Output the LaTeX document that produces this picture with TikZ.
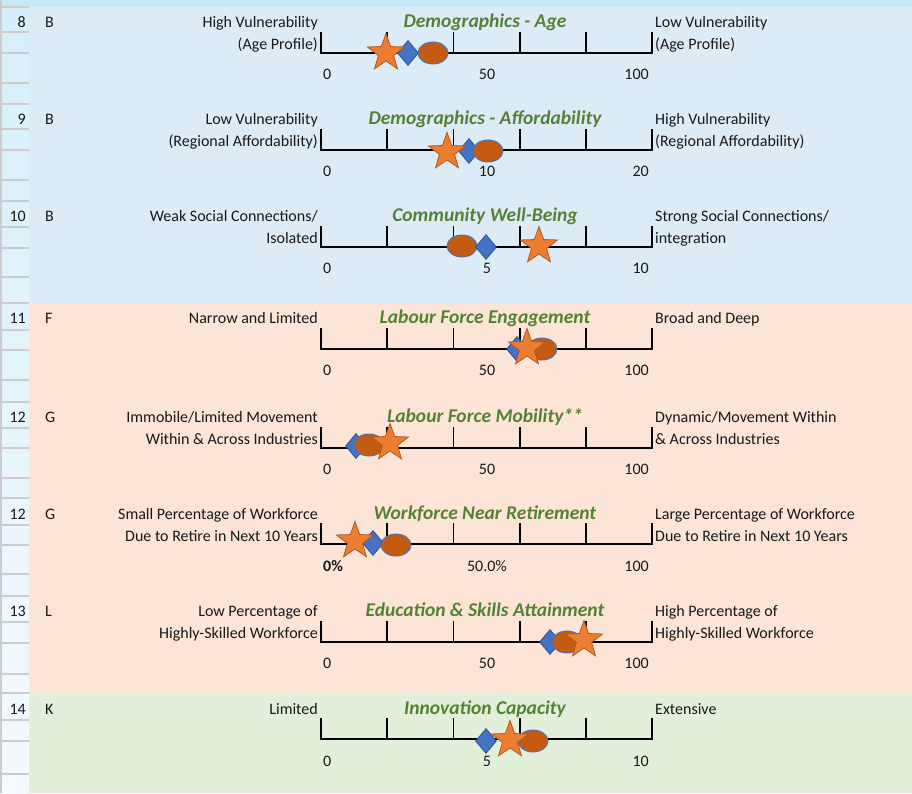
\documentclass[tikz,border=0pt]{standalone}
\usepackage{fontspec}
\setmainfont{Carlito}
\usetikzlibrary{shapes.geometric}
\definecolor{bandblue}{RGB}{221,235,247}
\definecolor{bandpeach}{RGB}{252,228,214}
\definecolor{bandgreen}{RGB}{226,239,218}
\definecolor{hdrtop}{RGB}{214,239,249}
\definecolor{hdrbot}{RGB}{244,250,254}
\definecolor{hdrline}{RGB}{204,204,204}
\definecolor{stripc}{RGB}{199,232,245}
\definecolor{titlegreen}{RGB}{84,130,53}
\definecolor{starfill}{RGB}{237,125,49}
\definecolor{starline}{RGB}{174,90,33}
\definecolor{diafill}{RGB}{68,114,196}
\definecolor{dialine}{RGB}{47,82,143}
\definecolor{ellfill}{RGB}{197,90,17}
\definecolor{ellline}{RGB}{68,114,196}
\definecolor{txt}{RGB}{25,25,25}
\tikzset{
  body/.style={font=\fontsize{16}{19}\selectfont, text=txt, inner sep=0pt},
  leftlbl/.style={body, anchor=base east},
  rightlbl/.style={body, anchor=base west},
  numl/.style={body, anchor=base west},
  numc/.style={body, anchor=base},
  numr/.style={body, anchor=base east},
  rowno/.style={body, anchor=base east},
  rowlet/.style={body, anchor=base west},
  ttl/.style={font=\fontsize{19.5}{23}\selectfont\bfseries\itshape, text=titlegreen, inner sep=0pt, anchor=base},
  axisline/.style={line width=1.8pt, black},
  starmk/.style={star, star points=5, star point ratio=2.45, minimum size=39pt, inner sep=0pt, fill=starfill, draw=starline, line width=0.8pt},
  diamk/.style={diamond, minimum width=21pt, minimum height=25pt, inner sep=0pt, fill=diafill, draw=dialine, line width=0.8pt},
  ellmk/.style={ellipse, minimum width=30pt, minimum height=22pt, inner sep=0pt, fill=ellfill, draw=ellline, line width=0.9pt},
}
\newcommand{\myaxis}[1]{%
  \draw[axisline] (321,{#1+25}) -- (321,{#1+46}) -- (652,{#1+46}) -- (652,{#1+25});
  \foreach \tx in {387.2,453.4,519.6,585.8} {\draw[axisline] (\tx,{#1+25}) -- (\tx,{#1+46});}
}
\begin{document}
\begin{tikzpicture}[x=1pt,y=-1pt]
\useasboundingbox (0,0) rectangle (912,793);
% backgrounds
\fill[stripc] (0,0) rectangle (912,7);
\fill[bandblue] (29,7) rectangle (912,303);
\fill[bandpeach] (29,303) rectangle (912,693);
\fill[bandgreen] (29,693) rectangle (912,793);
\shade[top color=hdrtop, bottom color=hdrbot] (2,7) rectangle (29,793);
\fill[hdrline] (0,0) rectangle (2,793);
\foreach \ly in {7,32,53,83,104,129,150,180,201,227,248,277,303,330,350,380,402,428,448,478,498,525,545,574,596,622,643,674,693,720,741,774} {
  \fill[hdrline] (2,\ly-1) rectangle (29,\ly+1);
}
% ---------- Section 8 (T=7)
\node[rowno] (r8n) at (26,27) {8};
\node[rowlet] (r8l) at (45,27) {B};
\node[leftlbl] (l8a) at (318,27) {High Vulnerability};
\node[leftlbl] (l8b) at (318,49) {(Age Profile)};
\node[ttl] (t8) at (485,27) {Demographics - Age};
\node[rightlbl] (g8a) at (655,27) {Low Vulnerability};
\node[rightlbl] (g8b) at (655,49) {(Age Profile)};
\myaxis{7}
\node[numl] (a8a) at (323,79) {0};
\node[numc] (a8b) at (487,79) {50};
\node[numr] (a8c) at (649,79) {100};
\node[diamk] (d8) at (408,53) {};
\node[ellmk] (e8) at (433,53) {};
\node[starmk] (s8) at (386,53) {};
% ---------- Section 9 (T=104)
\node[rowno] (r9n) at (26,124) {9};
\node[rowlet] (r9l) at (45,124) {B};
\node[leftlbl] (l9a) at (318,124) {Low Vulnerability};
\node[leftlbl] (l9b) at (318,146) {(Regional Affordability)};
\node[ttl] (t9) at (485,124) {Demographics - Affordability};
\node[rightlbl] (g9a) at (655,124) {High Vulnerability};
\node[rightlbl] (g9b) at (655,146) {(Regional Affordability)};
\myaxis{104}
\node[numl] (a9a) at (323,176) {0};
\node[numc] (a9b) at (487,176) {10};
\node[numr] (a9c) at (649,176) {20};
\node[diamk] (d9) at (469,151) {};
\node[ellmk] (e9) at (488,151) {};
\node[starmk] (s9) at (447,152) {};
% ---------- Section 10 (T=201)
\node[rowno] (r10n) at (26,221) {10};
\node[rowlet] (r10l) at (45,221) {B};
\node[leftlbl] (l10a) at (318,221) {Weak Social Connections/};
\node[leftlbl] (l10b) at (318,243) {Isolated};
\node[ttl] (t10) at (485,221) {Community Well-Being};
\node[rightlbl] (g10a) at (655,221) {Strong Social Connections/};
\node[rightlbl] (g10b) at (655,243) {integration};
\myaxis{201}
\node[numl] (a10a) at (323,273) {0};
\node[numc] (a10b) at (487,273) {5};
\node[numr] (a10c) at (649,273) {10};
\node[ellmk] (e10) at (462,246) {};
\node[diamk] (d10) at (486,247) {};
\node[starmk] (s10) at (539,246) {};
% ---------- Section 11 (T=303)
\node[rowno] (r11n) at (26,323) {11};
\node[rowlet] (r11l) at (45,323) {F};
\node[leftlbl] (l11a) at (318,323) {Narrow and Limited};
\node[ttl] (t11) at (485,323) {Labour Force Engagement};
\node[rightlbl] (g11a) at (655,323) {Broad and Deep};
\myaxis{303}
\node[numl] (a11a) at (323,375) {0};
\node[numc] (a11b) at (487,375) {50};
\node[numr] (a11c) at (649,375) {100};
\node[diamk] (d11) at (517,349) {};
\node[ellmk] (e11) at (542,349) {};
\node[starmk] (s11) at (527,348) {};
% ---------- Section 12a (T=402)
\node[rowno] (r12n) at (26,422) {12};
\node[rowlet] (r12l) at (45,422) {G};
\node[leftlbl] (l12a) at (318,422) {Immobile/Limited Movement};
\node[leftlbl] (l12b) at (318,444) {Within \& Across Industries};
\node[ttl] (t12) at (485,422) {Labour Force Mobility**};
\node[rightlbl] (g12a) at (655,422) {Dynamic/Movement Within};
\node[rightlbl] (g12b) at (655,444) {\& Across Industries};
\myaxis{402}
\node[numl] (a12a) at (323,474) {0};
\node[numc] (a12b) at (487,474) {50};
\node[numr] (a12c) at (649,474) {100};
\node[diamk] (d12) at (356,446) {};
\node[ellmk] (e12) at (369,445) {};
\node[starmk] (s12) at (390,443) {};
% ---------- Section 12b (T=498)
\node[rowno] (r13n) at (26,519) {12};
\node[rowlet] (r13l) at (45,519) {G};
\node[leftlbl] (l13a) at (318,519) {Small Percentage of Workforce};
\node[leftlbl] (l13b) at (318,541) {Due to Retire in Next 10 Years};
\node[ttl] (t13) at (485,519) {Workforce Near Retirement};
\node[rightlbl] (g13a) at (655,519) {Large Percentage of Workforce};
\node[rightlbl] (g13b) at (655,541) {Due to Retire in Next 10 Years};
\myaxis{498}
\node[numl,font=\fontsize{16}{19}\selectfont\bfseries] (a13a) at (323,571) {0\%};
\node[numc] (a13b) at (487,571) {50.0\%};
\node[numr] (a13c) at (649,571) {100};
\node[diamk] (d13) at (373,543) {};
\node[ellmk] (e13) at (396,545) {};
\node[starmk] (s13) at (355,541) {};
% ---------- Section 13 (T=596)
\node[rowno] (r14n) at (26,616) {13};
\node[rowlet] (r14l) at (45,616) {L};
\node[leftlbl] (l14a) at (318,616) {Low Percentage of};
\node[leftlbl] (l14b) at (318,638) {Highly-Skilled Workforce};
\node[ttl] (t14) at (485,616) {Education \& Skills Attainment};
\node[rightlbl] (g14a) at (655,616) {High Percentage of};
\node[rightlbl] (g14b) at (655,638) {Highly-Skilled Workforce};
\myaxis{596}
\node[numl] (a14a) at (323,668) {0};
\node[numc] (a14b) at (487,668) {50};
\node[numr] (a14c) at (649,668) {100};
\node[diamk] (d14) at (550,642) {};
\node[ellmk] (e14) at (567,642) {};
\node[starmk] (s14) at (584,640) {};
% ---------- Section 14 (T=693)
\node[rowno] (r15n) at (26,714) {14};
\node[rowlet] (r15l) at (45,714) {K};
\node[leftlbl] (l15a) at (318,714) {Limited};
\node[ttl] (t15) at (485,714) {Innovation Capacity};
\node[rightlbl] (g15a) at (655,714) {Extensive};
\myaxis{693}
\node[numl] (a15a) at (323,766) {0};
\node[numc] (a15b) at (487,766) {5};
\node[numr] (a15c) at (649,766) {10};
\node[diamk] (d15) at (486,741) {};
\node[ellmk] (e15) at (533,741) {};
\node[starmk] (s15) at (510,740) {};
\end{tikzpicture}
\end{document}
